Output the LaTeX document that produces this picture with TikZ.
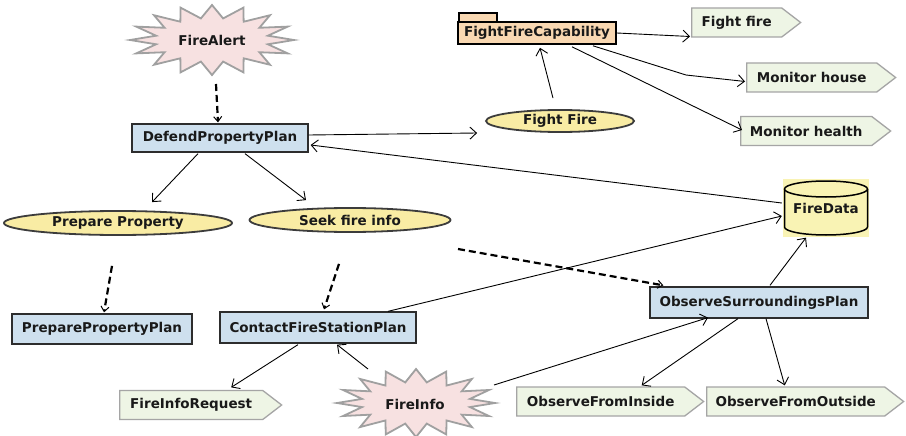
\documentclass[tikz,border=0pt]{standalone}
\usepackage{fontspec}
\setmainfont{DejaVu Sans}
\usetikzlibrary{shapes.geometric,shapes.symbols,arrows.meta,calc}
\definecolor{boxblue}{RGB}{206,224,238}
\definecolor{boxline}{RGB}{45,45,45}
\definecolor{elyellow}{RGB}{249,236,164}
\definecolor{elline}{RGB}{60,60,60}
\definecolor{siggreen}{RGB}{238,245,229}
\definecolor{siggray}{RGB}{165,165,165}
\definecolor{starpink}{RGB}{247,225,225}
\definecolor{stargray}{RGB}{160,160,160}
\definecolor{peach}{RGB}{249,216,178}
\definecolor{cylfill}{RGB}{249,243,180}
\definecolor{txt}{RGB}{25,25,25}
\begin{document}
\begin{tikzpicture}[x=1pt,y=-1pt,
 lbl/.style={font=\fontsize{13.5}{16}\selectfont\bfseries, text=txt},
 planbox/.style={lbl, draw=boxline, fill=boxblue, line width=1.3pt, minimum height=30pt, inner sep=0pt},
 goal/.style={lbl, ellipse, draw=elline, fill=elyellow, line width=1.8pt, inner sep=0pt},
 sig/.style={lbl, signal, signal to=east, signal pointer angle=75, draw=siggray, fill=siggreen, line width=1.3pt, minimum height=29pt, inner sep=0pt, anchor=west},
 folderbox/.style={lbl, draw=black, fill=peach, line width=1.6pt, inner sep=0pt},
 starsty/.style={draw=stargray, fill=starpink, line width=1.8pt, line join=miter},
 conn/.style={line width=0.9pt, -{Straight Barb[length=6.5pt,width=12pt]}},
 dconn/.style={line width=2.2pt, dash pattern=on 7pt off 4pt, -{Straight Barb[length=5pt,width=8pt,line width=1pt]}},
]
\useasboundingbox[fill=white] (0,0) rectangle (906,436);

% starbursts
\draw[starsty] plot[variable=\t, samples at={0,...,31}] ({212+(82-25*mod(\t,2))*cos(\t*11.25)}, {40+(35-13*mod(\t,2))*sin(\t*11.25)}) -- cycle;
\node[lbl] (fa) at (212,40) {FireAlert};
\draw[starsty] plot[variable=\t, samples at={0,...,31}] ({416+(79-24*mod(\t,2))*cos(\t*11.25)}, {403+(34-13*mod(\t,2))*sin(\t*11.25)}) -- cycle;
\node[lbl] (fi) at (415,404) {FireInfo};

% plans
\node[planbox, minimum width=176pt, minimum height=28pt] (dpp) at (220,138) {DefendPropertyPlan};
\node[planbox, minimum width=180pt] (ppp) at (102,329) {PreparePropertyPlan};
\node[planbox, minimum width=196pt, minimum height=31pt] (cfsp) at (318,327.5) {ContactFireStationPlan};
\node[planbox, minimum width=218pt, minimum height=31pt] (osp) at (759,302.5) {ObserveSurroundingsPlan};

% goals
\node[goal, minimum width=148pt, minimum height=22pt] (ff) at (560,121) {Fight Fire};
\node[goal, minimum width=228pt, minimum height=24pt] (pp) at (118,223) {Prepare Property};
\node[goal, minimum width=201pt, minimum height=24pt] (sfi) at (350,220) {Seek fire info};

% capability folder
\draw[draw=black, fill=peach, line width=1.4pt] (459,13) rectangle (497,22);
\node[folderbox, minimum width=158pt, minimum height=22pt] (ffc) at (537,33) {FightFireCapability};

% signals
\node[sig, minimum width=109pt] (s1) at (691,22.5) {Fight fire};
\node[sig, minimum width=149pt] (s2) at (746,77.5) {Monitor house};
\node[sig, minimum width=150pt] (s3) at (740,131) {Monitor health};
\node[sig, minimum width=162pt] (fir) at (119,405) {FireInfoRequest};
\node[sig, minimum width=187pt] (ofi) at (516,401.5) {ObserveFromInside};
\node[sig, minimum width=197pt] (ofo) at (706,401.5) {ObserveFromOutside};

% data
\fill[cylfill] (783,179) rectangle (869,237);
\draw[line width=1.5pt, fill=cylfill] (784.5,189) -- (784.5,227) arc[start angle=180, end angle=0, x radius=41.5, y radius=8] -- (867.5,189);
\draw[line width=1.5pt, fill=cylfill] (826,189) ellipse[x radius=41.5, y radius=8];
\node[lbl, minimum width=85pt, minimum height=57pt, inner sep=0pt] (fd) at (826,208) {FireData};

% connectors
\draw[dconn] ($(fa.center)+(4,44)$) -- ($(dpp.north)+(-2,-1)$);
\draw[conn] ($(dpp.east)+(0,-3)$) -- ($(ff.west)+(-8,12)$);
\draw[conn] ($(ff.north)+(-7,-11)$) -- ($(ffc.south)+(3,3)$);
\draw[conn] (ffc.east) -- ($(s1.west)+(-1,14)$);
\coordinate (bend) at (686,75);
\draw[conn] ($(ffc.south)+(56,1)$) -- (bend) -- ($(s2.west)+(-1,4)$);
\draw[conn] ($(ffc.south)+(35,2)$) -- ($(s3.west)+(2,-1)$);
\draw[conn] ($(fd.west)+(-1.5,-5)$) -- ($(dpp.east)+(2,7)$);
\draw[conn] ($(dpp.south)+(-22,1)$) -- ($(pp.north)+(34,-8)$);
\draw[conn] ($(dpp.south)+(25,1)$) -- ($(sfi.north)+(-44,-7)$);
\draw[dconn] ($(pp.south)+(-6,30)$) -- ($(ppp.north)+(2,-1)$);
\draw[dconn] ($(sfi.south)+(-11,31)$) -- ($(cfsp.north)+(6,-2)$);
\coordinate (dstart) at (458,249);
\draw[dconn] (dstart) -- ($(osp.north west)+(14,-1)$);
\draw[conn] ($(cfsp.north)+(70,0)$) -- ($(fd.west)+(-1.5,8)$);
\draw[conn] ($(osp.north)+(11,-1)$) -- ($(fd.south)+(-20,1)$);
\draw[conn] ($(fi.center)+(-47,-35)$) -- ($(cfsp.south)+(19,1)$);
\draw[conn] ($(fi.center)+(79,-19)$) -- ($(osp.south)+(-51,-1)$);
\draw[conn] ($(cfsp.south)+(-20,1)$) -- ($(fir.north)+(40,-2.5)$);
\draw[conn] ($(osp.south)+(-21,0)$) -- ($(ofi.north)+(41,-1)$);
\draw[conn] ($(osp.south)+(7,0)$) -- ($(ofo.north)+(-11,-1)$);
\end{tikzpicture}
\end{document}
